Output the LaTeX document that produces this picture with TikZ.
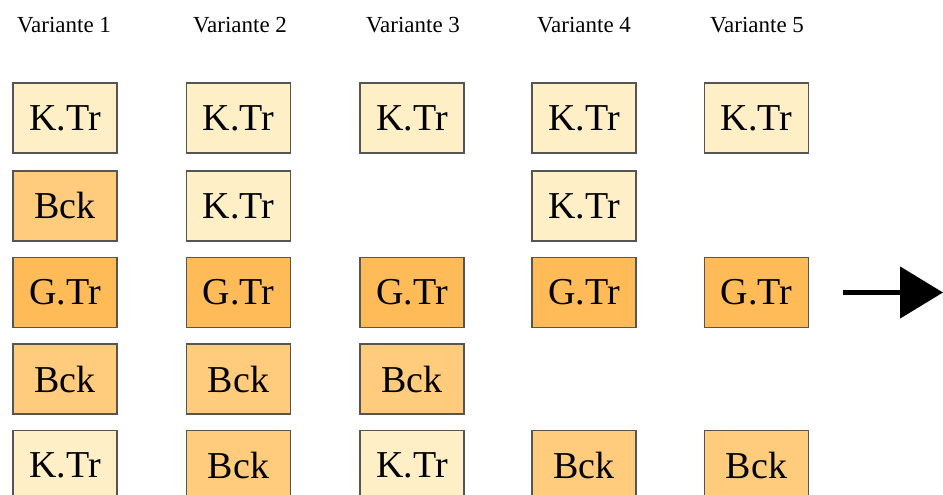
\documentclass[tikz,border=0pt]{standalone}
\usepackage{fontspec}
\setmainfont{Liberation Serif}
\usepackage{tikz}
\usetikzlibrary{positioning}
\usetikzlibrary{arrows.meta}

\definecolor{ktrfill}{HTML}{FFEFC6}
\definecolor{bckfill}{HTML}{FFCB7C}
\definecolor{gtrfill}{HTML}{FFBB58}
\definecolor{boxline}{HTML}{555555}

\tikzset{
  blk/.style={draw=boxline, line width=1.5pt, minimum width=104pt, minimum height=70pt,
    inner sep=0pt, font=\fontsize{38}{40}\selectfont},
  ktr/.style={blk, fill=ktrfill},
  bck/.style={blk, fill=bckfill},
  gtr/.style={blk, fill=gtrfill},
  head/.style={inner sep=0pt, font=\fontsize{23}{25}\selectfont}
}

\begin{document}
\begin{tikzpicture}[x=1pt, y=-1pt]
    \useasboundingbox (0,0) rectangle (943,495);

        % Define nodes
        \node[head] (h1) at (64,25)  {Variante 1};
        \node[head] (h2) at (240,25) {Variante 2};
        \node[head] (h3) at (413,25) {Variante 3};
        \node[head] (h4) at (584,25) {Variante 4};
        \node[head] (h5) at (757,25) {Variante 5};

        \node[ktr] (a1) at (65,118)    {K.Tr};
        \node[bck] (a2) at (65,206)    {Bck};
        \node[gtr] (a3) at (65,292.5)  {G.Tr};
        \node[bck] (a4) at (65,379)    {Bck};
        \node[ktr] (a5) at (65,465.5)  {K.Tr};

        \node[ktr] (b1) at (238.5,118)   {K.Tr};
        \node[ktr] (b2) at (238.5,206)   {K.Tr};
        \node[gtr] (b3) at (238.5,292.5) {G.Tr};
        \node[bck] (b4) at (238.5,379)   {Bck};
        \node[bck] (b5) at (238.5,465.5) {Bck};

        \node[ktr] (c1) at (412,118)   {K.Tr};
        \node[gtr] (c3) at (412,292.5) {G.Tr};
        \node[bck] (c4) at (412,379)   {Bck};
        \node[ktr] (c5) at (412,465.5) {K.Tr};

        \node[ktr] (d1) at (584,118)   {K.Tr};
        \node[ktr] (d2) at (584,206)   {K.Tr};
        \node[gtr] (d3) at (584,292.5) {G.Tr};
        \node[bck] (d5) at (584,465.5) {Bck};

        \node[ktr] (e1) at (756.5,118)   {K.Tr};
        \node[gtr] (e3) at (756.5,292.5) {G.Tr};
        \node[bck] (e5) at (756.5,465.5) {Bck};

        % Arrow
        \coordinate (out0) at (843,292.5);
        \coordinate (out1) at (943,292.5);
        \draw[line width=5pt, -{Triangle[length=43pt,width=51pt]}] (out0) -- (out1);

      \end{tikzpicture}
\end{document}
